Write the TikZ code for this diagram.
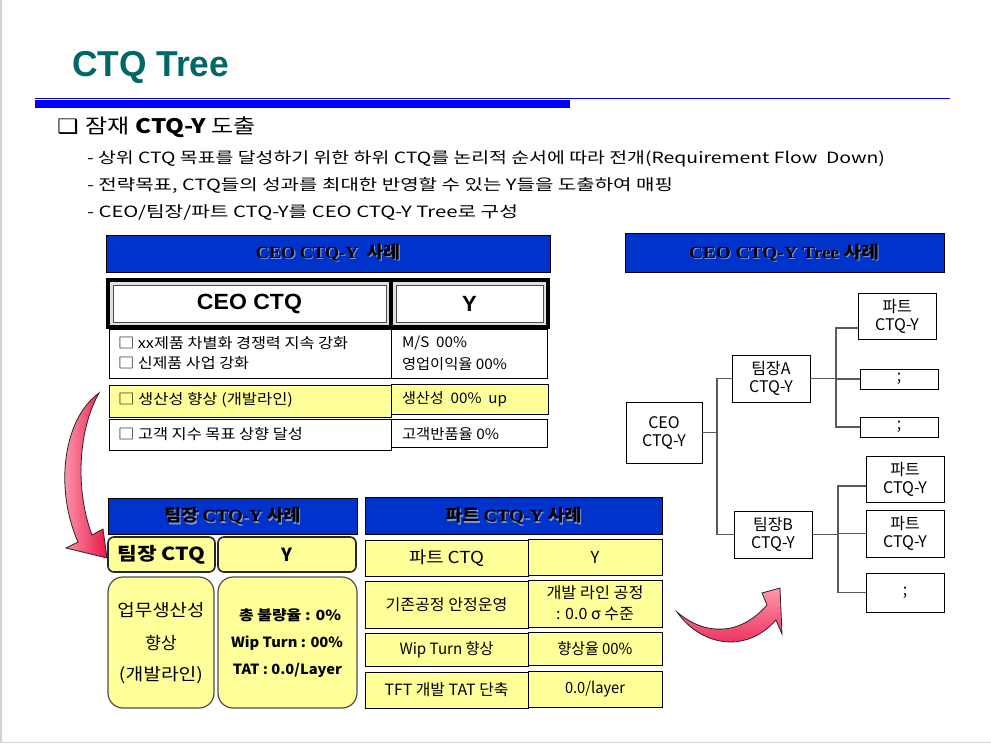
\documentclass[tikz,border=0pt]{standalone}
\usepackage{fontspec}
\usepackage{graphicx}
\setmainfont{Noto Sans CJK KR}
\newfontfamily\arialf{Liberation Sans}
\newfontfamily\serif{Liberation Serif}
\newfontfamily\dvs{DejaVu Sans}
\usetikzlibrary{calc}
\definecolor{titleteal}{RGB}{0,102,102}
\definecolor{hdrblue}{RGB}{0,51,204}
\definecolor{ylw}{RGB}{255,255,153}
\definecolor{connc}{RGB}{90,90,90}
\definecolor{shadowc}{RGB}{130,150,210}
\newcommand\fx[2]{\resizebox{#1pt}{\height}{#2}}
\newcommand\cell[7]{\node[#2, minimum width={#5-#3}, minimum height={#6-#4}] (#1) at ({(#3+#5)/2},{(#4+#6)/2}) {#7};}
\newcommand\hdrtxt[4]{\node[text=shadowc] (#1s) at (#2+1.2,#3+1.2) {#4};\node (#1) at (#2,#3) {#4};}
\newcommand\hfont{\fontsize{17}{20}\selectfont\bfseries}
\begin{document}
\begin{tikzpicture}[x=1pt,y=-1pt,
  every node/.style={inner sep=0pt, outer sep=0pt},
  hdr/.style={draw=black, fill=hdrblue, line width=0.9},
  wcell/.style={draw=black, fill=white, line width=1},
  ycell/.style={draw=black, fill=ylw, line width=1, align=center, font=\fontsize{15.5}{21}\selectfont},
  tbox/.style={draw=black, fill=white, line width=1, align=center, font=\fontsize{16}{18}\selectfont},
  conn/.style={draw=connc, line width=1.4},
  rbox/.style={draw=black!85, fill=ylw, line width=1.6, rounded corners=6},
  rbig/.style={draw=black!70, fill=ylw, line width=1.2, rounded corners=15},
  thick/.style={draw=black, fill=gray!25, line width=4},
  rtxt/.style={anchor=west, font=\fontsize{14.5}{16}\selectfont}
]
\useasboundingbox (0,0) rectangle (991,744);
\fill[white] (0,0) rectangle (991,744);
\draw[gray!35, line width=1.5] (0.75,0) -- (0.75,742.5) -- (991,742.5);

% title and rules
\node[anchor=base west, text=titleteal] (title) at (72,76) {\fx{157}{\fontsize{36}{40}\arialf\bfseries CTQ Tree}};
\draw[blue, line width=1] (35,98) -- (950,98);
\fill[blue] (35,100) rectangle (570,107.5);

% heading and bullets
\node[anchor=base west] (h1) at (57,133) {\fx{199}{\fontsize{20}{24}\selectfont{\dvs ❑}\hspace{6pt}잠재 \textbf{CTQ-Y} 도출}};
\node[anchor=base west] (b1) at (87,163) {\fx{798}{\fontsize{15.5}{18}\selectfont - 상위 CTQ 목표를 달성하기 위한 하위 CTQ를 논리적 순서에 따라 전개(Requirement Flow\ \ Down)}};
\node[anchor=base west] (b2) at (87,190) {\fx{586}{\fontsize{15.5}{18}\selectfont - 전략목표, CTQ들의 성과를 최대한 반영할 수 있는 Y들을 도출하여 매핑}};
\node[anchor=base west] (b3) at (87,217) {\fx{431}{\fontsize{15.5}{18}\selectfont - CEO/팀장/파트 CTQ-Y를 CEO CTQ-Y Tree로 구성}};

% CEO CTQ-Y table
\cell{chdr}{hdr}{106}{235}{550}{272}{}
\hdrtxt{chdrt}{328}{253}{\fx{144}{\hfont{\serif CEO CTQ-Y}\ \ 사례}}
\cell{cctq}{thick}{108}{280}{391}{327}{}
\cell{cy}{thick}{391}{280}{548}{327}{}
\draw[black!70, fill=white, line width=1] ($(cctq.north west)+(5,5)$) rectangle ($(cctq.south east)+(-5,-5)$);
\draw[black!70, fill=white, line width=1] ($(cy.north west)+(5,5)$) rectangle ($(cy.south east)+(-5,-5)$);
\node[font=\fontsize{22}{24}\arialf\bfseries] (cctqt) at (cctq) {\fx{105}{CEO CTQ}};
\node[font=\fontsize{22}{24}\arialf\bfseries] (cyt) at (cy) {Y};
\cell{r1l}{wcell}{109}{329}{391}{378}{}
\cell{r1r}{wcell}{391}{329}{547}{378}{}
\cell{r2l}{ycell}{109}{385}{391}{417}{}
\cell{r2r}{ycell}{391}{384}{548}{414}{}
\cell{r3l}{wcell}{109}{419}{391}{450}{}
\cell{r3r}{wcell}{391}{419}{547}{447}{}
\node[rtxt] (t11) at (118,343) {\fx{230}{□ xx제품 차별화 경쟁력 지속 강화}};
\node[rtxt] (t12) at (118,363) {\fx{131}{□ 신제품 사업 강화}};
\node[rtxt] (t13) at (402,343) {\fx{65}{M/S\ \ 00\%}};
\node[rtxt] (t14) at (402,364) {\fx{105}{영업이익율 00\%}};
\node[rtxt] (t21) at (118,400) {\fx{175}{□ 생산성 향상 (개발라인)}};
\node[rtxt] (t22) at (402,399) {\fx{105}{생산성\ \ 00\%\ \ up}};
\node[rtxt] (t31) at (118,434) {\fx{185}{□ 고객 지수 목표 상향 달성}};
\node[rtxt] (t32) at (402,434) {\fx{97}{고객반품율 0\%}};

% Tree
\cell{trhdr}{hdr}{625}{233}{944}{272}{}
\hdrtxt{trhdrt}{784}{253}{\fx{190}{\hfont{\serif CEO CTQ-Y Tree}\ 사례}}
\cell{ceo}{tbox}{626}{402}{702}{463}{CEO\\CTQ-Y}
\cell{tA}{tbox}{732}{355}{810}{402}{팀장A\\CTQ-Y}
\cell{tB}{tbox}{734}{511}{812}{558}{팀장B\\CTQ-Y}
\cell{pA1}{tbox}{858}{293}{936}{339}{파트\\CTQ-Y}
\cell{pA2}{tbox}{860}{369}{938}{389}{;}
\cell{pA3}{tbox}{860}{417}{938}{437}{;}
\cell{pB1}{tbox}{866}{456}{944}{502}{파트\\CTQ-Y}
\cell{pB2}{tbox}{866}{510}{944}{557}{파트\\CTQ-Y}
\cell{pB3}{tbox}{866}{573}{944}{612}{;}
\draw[conn] (ceo.east) -- ++(15,0) |- (tA.west);
\draw[conn] (ceo.east) -- ++(15,0) |- (tB.west);
\draw[conn] (tA.east) -- ++(26,0) |- ([yshift=-12pt]pA1.west);
\draw[conn] (tA.east) -- ++(26,0) |- (pA2.west);
\draw[conn] (tA.east) -- ++(26,0) |- (pA3.west);
\draw[conn] (tB.east) -- ++(26,0) |- ([yshift=-7pt]pB1.west);
\draw[conn] (tB.east) -- ++(26,0) |- (pB2.west);
\draw[conn] (tB.east) -- ++(26,0) |- (pB3.west);

% Team table
\cell{thdr}{hdr}{108}{498}{357}{534}{}
\hdrtxt{thdrt}{232.5}{516}{\fx{136}{\hfont 팀장 {\serif CTQ-Y} 사례}}
\cell{tctq}{rbox}{108}{537}{215}{572}{\fx{88}{\fontsize{18}{20}\selectfont\bfseries 팀장 CTQ}}
\cell{ty}{rbox}{218}{537}{356}{572}{\fontsize{18}{20}\selectfont\bfseries Y}
\cell{tb1}{rbig}{108}{577}{214}{708}{}
\cell{tb2}{rbig}{218}{577}{357}{708}{}
\node[font=\fontsize{17}{20}\selectfont] (u1) at (161,610) {\fx{87}{업무생산성}};
\node[font=\fontsize{17}{20}\selectfont] (u2) at (161,643) {향상};
\node[font=\fontsize{17}{20}\selectfont] (u3) at (161,675) {\fx{84}{(개발라인)}};
\node[font=\fontsize{14}{16}\selectfont\bfseries] (v1) at (290,615) {\fx{102}{총 불량율 : 0\%}};
\node[font=\fontsize{14}{16}\selectfont\bfseries] (v2) at (287,643) {\fx{112}{Wip Turn : 00\%}};
\node[font=\fontsize{14}{16}\selectfont\bfseries] (v3) at (287.5,670) {\fx{109}{TAT : 0.0/Layer}};

% Part table
\cell{phdr}{hdr}{365}{497}{662}{534}{}
\hdrtxt{phdrt}{513.5}{516}{\fx{136}{\hfont 파트 {\serif CTQ-Y} 사례}}
\cell{p1l}{ycell}{365}{540}{528}{576}{\fx{75}{\fontsize{16.5}{18}\selectfont 파트 CTQ}}
\cell{p1r}{ycell}{528}{539}{662}{575}{\fontsize{16.5}{18}\selectfont Y}
\cell{p2l}{ycell}{365}{581}{528}{628}{\fx{122}{기존공정 안정운영}}
\cell{p2r}{ycell}{528}{580}{662}{627}{\fx{97}{개발 라인 공정}\\\fx{78}{: 0.0 σ 수준}}
\cell{p3l}{ycell}{365}{633}{528}{666}{\fx{94}{Wip Turn 향상}}
\cell{p3r}{ycell}{528}{632}{662}{665}{\fx{75}{향상율 00\%}}
\cell{p4l}{ycell}{365}{672}{528}{708}{\fx{124}{TFT 개발 TAT 단축}}
\cell{p4r}{ycell}{528}{671}{662}{707}{\fx{60}{0.0/layer}}

% curved arrows
\shadedraw[draw=black!85, line width=0.8, left color={rgb,255:red,255;green,175;blue,190}, right color={rgb,255:red,235;green,20;blue,70}]
  (99,393) .. controls (62,420) and (55,490) .. (78,542) -- (66,548) -- (107,558) -- (103,529) -- (92,535)
  .. controls (75,490) and (78,430) .. (99,393) -- cycle;
\shadedraw[draw=black!85, line width=0.8, top color={rgb,255:red,255;green,150;blue,170}, bottom color={rgb,255:red,235;green,30;blue,80}]
  (677,612) .. controls (700,645) and (745,655) .. (776,620) -- (782,634) -- (780,588) -- (762,593) -- (767,605)
  .. controls (740,636) and (705,636) .. (677,612) -- cycle;
\end{tikzpicture}
\end{document}
